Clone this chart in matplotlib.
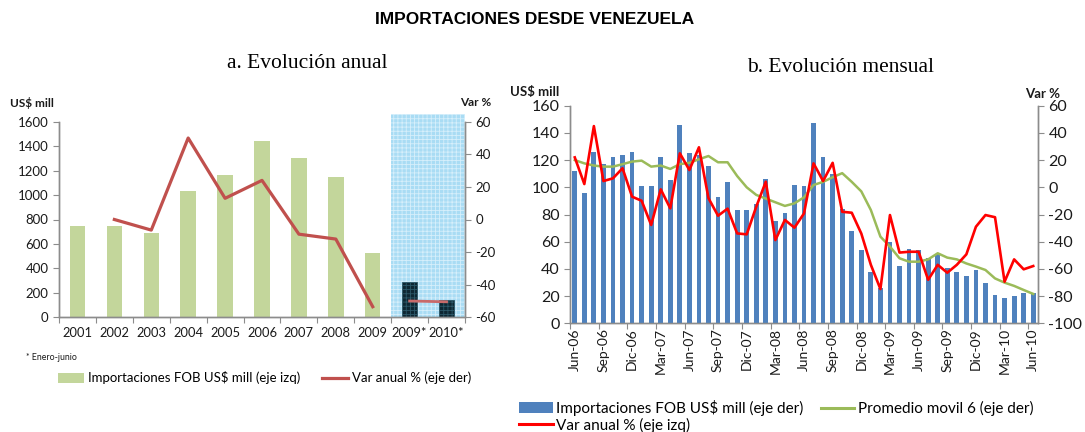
import numpy as np
import matplotlib
matplotlib.use("Agg")
import matplotlib.pyplot as plt
from matplotlib.patches import Rectangle, Patch
from matplotlib.lines import Line2D
import matplotlib.transforms as mtransforms

# ---------------- data ----------------
years = ['2001', '2002', '2003', '2004', '2005', '2006', '2007', '2008', '2009', '2009*', '2010*']
annual_imports = [750, 745, 690, 1035, 1160, 1445, 1305, 1145, 530, 290, 140]
annual_var = [np.nan, 0, -6.5, 50, 13, 24, -9, -12, -53.5, np.nan, np.nan]
partial_var = [np.nan] * 9 + [-50, -50.5]

month_tick_labels = ['Jun-06', 'Sep-06', 'Dic-06', 'Mar-07', 'Jun-07', 'Sep-07', 'Dic-07',
                     'Mar-08', 'Jun-08', 'Sep-08', 'Dic-08', 'Mar-09', 'Jun-09', 'Sep-09',
                     'Dic-09', 'Mar-10', 'Jun-10']
monthly_imports = [112, 96, 126, 117, 122, 124, 126, 101, 101, 122,
                   105, 146, 125, 124, 116, 93, 104, 83, 83, 88,
                   106, 75, 81, 102, 101, 147, 122, 110, 84, 68,
                   54, 38, 26, 60, 42, 55, 54, 48, 51, 41,
                   38, 35, 39, 30, 21, 18.5, 20, 22, 22]
moving_avg = [120, 117.6, 116, 115.2, 115.2, 117, 118.9, 119.6, 115.2, 116,
              113.5, 117, 118, 120.6, 123, 118.4, 118.4, 108.3, 100, 94.4,
              91.7, 89, 86.3, 88.2, 92.6, 101.7, 104, 107.4, 110.4, 104,
              97, 83.3, 63.7, 56.4, 47.8, 45.3, 45.3, 47, 51.5, 48.3,
              47, 44, 41.7, 39.2, 33, 29.9, 27.5, 24.5, 21.6]
monthly_var = [22, 2.4, 45, 4.6, 6.6, 14, -6.9, -9.9, -27.7, -1.5,
               -15.5, 25, 12.7, 29.4, -8, -20.9, -15.7, -33.9, -34.6, -14.3,
               4.1, -38.8, -24, -29.7, -19.2, 17.6, 4.6, 18, -18, -18.7,
               -34, -57, -74.8, -20.4, -48, -47.4, -47.4, -68, -57, -62.8,
               -57, -49.3, -29, -20.4, -22, -69.4, -53, -60.3, -57.9]

# ---------------- style ----------------
FONT = ['Lato', 'DejaVu Sans']
plt.rcParams['font.family'] = FONT
plt.rcParams['hatch.linewidth'] = 0.6
plt.rcParams['axes.unicode_minus'] = False
AXC = '#8C8C8C'
TXT = '#1a1a1a'

W, H = 1085, 432
fig = plt.figure(figsize=(W / 100, H / 100), dpi=100)


def fx(px):
    return px / W


def fy(py):
    return 1 - py / H


def style_axes(ax, ax2):
    for a in (ax, ax2):
        a.spines['top'].set_visible(False)
        for s in ('left', 'right', 'bottom'):
            a.spines[s].set_color(AXC)
            a.spines[s].set_linewidth(1.0)
    ax.tick_params(axis='y', colors=AXC, labelcolor=TXT, length=4, width=0.8)
    ax2.tick_params(axis='y', colors=AXC, labelcolor=TXT, length=4, width=0.8)
    ax.tick_params(axis='x', which='major', length=0, labelcolor=TXT)
    ax.tick_params(axis='x', which='minor', colors=AXC, length=4, width=0.8)


# ---------------- left chart ----------------
axL = fig.add_axes([fx(59), fy(317.3), fx(465 - 59), (317.3 - 121.7) / H])
axL2 = axL.twinx()
n = len(years)
x = np.arange(n)

trans = mtransforms.blended_transform_factory(axL.transData, axL.transAxes)
shade = Rectangle((8.5, 0), 2.0, 1.04, transform=trans, facecolor='#A9DCF4',
                  edgecolor='#D6EFFB', hatch='++++', linewidth=0, clip_on=False, zorder=0)
axL.add_patch(shade)

colors = ['#C3D69B'] * 9 + ['#0D2733'] * 2
bars = axL.bar(x, annual_imports, width=0.42, color=colors, zorder=2, linewidth=0)
for b in list(bars)[9:]:
    b.set_hatch('++++')
    b.set_edgecolor('#2C5868')
    b.set_linewidth(0.6)

axL.set_xlim(-0.5, n - 0.5)
axL.set_ylim(0, 1600)
axL.set_yticks(np.arange(0, 1601, 200))
axL.set_xticks(x)
axL.set_xticklabels(years)
axL.set_xticks(np.arange(-0.5, n, 1.0), minor=True)
axL.patch.set_visible(False)

axL2.plot(x, annual_var, color='#C0504D', lw=2.3, zorder=3)
axL2.plot(x, partial_var, color='#C86A6A', lw=2.0, zorder=3)
axL2.set_ylim(-60, 60)
axL2.set_yticks(np.arange(-60, 61, 20))
axL.set_zorder(axL2.get_zorder() - 1)
axL2.patch.set_visible(False)

style_axes(axL, axL2)
for lab in axL.get_yticklabels() + axL2.get_yticklabels():
    lab.set_fontsize(9.5)
for lab in axL.get_xticklabels():
    lab.set_fontsize(9.3)
axL.tick_params(axis='x', pad=7)

fig.text(fx(10), fy(103), 'US$ mill', fontsize=8.5, fontweight='bold', color=TXT, va='center')
fig.text(fx(491), fy(103), 'Var %', fontsize=8.5, fontweight='bold', color=TXT, va='center', ha='right')
fig.text(fx(26), fy(357), '* Enero-junio', fontsize=6.3, color=TXT, va='center')

legL = fig.legend(handles=[Patch(facecolor='#C3D69B', edgecolor='none'),
                           Line2D([0], [0], color='#C0504D', lw=2.3)],
                  labels=['Importaciones FOB US$ mill (eje izq)', 'Var anual % (eje der)'],
                  loc='center left', bbox_to_anchor=(fx(58), fy(378)), ncol=2, frameon=False,
                  fontsize=9.5, handlelength=2.0, handletextpad=0.3, columnspacing=1.6,
                  borderaxespad=0, borderpad=0)

# ---------------- right chart ----------------
axR = fig.add_axes([fx(570), fy(323.3), fx(1038 - 570), (323.3 - 105.7) / H])
axR2 = axR.twinx()
m = len(monthly_imports)
xm = np.arange(m)

axR.bar(xm, monthly_imports, width=0.5, color='#4F81BD', zorder=2, linewidth=0)
axR.plot(xm, moving_avg, color='#9BBB59', lw=1.8, zorder=3)

axR.set_xlim(-0.5, m - 0.5)
axR.set_ylim(0, 160)
axR.set_yticks(np.arange(0, 161, 20))
axR2.set_ylim(-100, 60)
axR2.set_yticks(np.arange(-100, 61, 20))
axR.set_xticks(np.arange(0, m, 3))
axR.set_xticklabels(month_tick_labels, rotation=90)
axR.set_xticks(np.arange(-0.5, m, 3.0), minor=True)
axR.patch.set_visible(False)
axR2.set_zorder(axR.get_zorder() - 1)

# red line (right scale) drawn above the bars
axRtop = axR.twinx()
axRtop.set_ylim(-100, 60)
axRtop.axis('off')
axRtop.plot(xm, monthly_var, color='#FF0000', lw=1.9, zorder=4)
axRtop.set_zorder(axR.get_zorder() + 1)

style_axes(axR, axR2)
for lab in axR.get_yticklabels() + axR2.get_yticklabels():
    lab.set_fontsize(11.5)
for lab in axR.get_xticklabels():
    lab.set_fontsize(10)

fig.text(fx(510), fy(92), 'US$ mill', fontsize=9.5, fontweight='bold', color=TXT, va='center')
fig.text(fx(1060), fy(94), 'Var %', fontsize=9.5, fontweight='bold', color=TXT, va='center', ha='right')

legR = fig.legend(handles=[Patch(facecolor='#4F81BD', edgecolor='none'),
                           Line2D([0], [0], color='#FF0000', lw=2.2),
                           Line2D([0], [0], color='#9BBB59', lw=2.2)],
                  labels=['Importaciones FOB US$ mill (eje der)', 'Var anual % (eje izq)',
                          'Promedio movil 6 (eje der)'],
                  loc='upper left', bbox_to_anchor=(fx(519), fy(400)), ncol=2, frameon=False,
                  fontsize=11, handlelength=2.2, handletextpad=0.25, columnspacing=1.1,
                  labelspacing=0.1, borderaxespad=0, borderpad=0)

# ---------------- titles ----------------
fig.text(fx(535), fy(19), 'IMPORTACIONES DESDE VENEZUELA', fontsize=12.5, fontweight='bold',
         family=['Liberation Sans', 'DejaVu Sans'], ha='center', va='center', color='black')
fig.text(fx(307), fy(64), 'a. Evolución anual', fontsize=15.5,
         family=['Liberation Serif', 'DejaVu Serif'], ha='center', va='center', color='black')
fig.text(fx(841), fy(67), 'b. Evolución mensual', fontsize=15.5,
         family=['Liberation Serif', 'DejaVu Serif'], ha='center', va='center', color='black')

fig.savefig('out.png', dpi=100)
